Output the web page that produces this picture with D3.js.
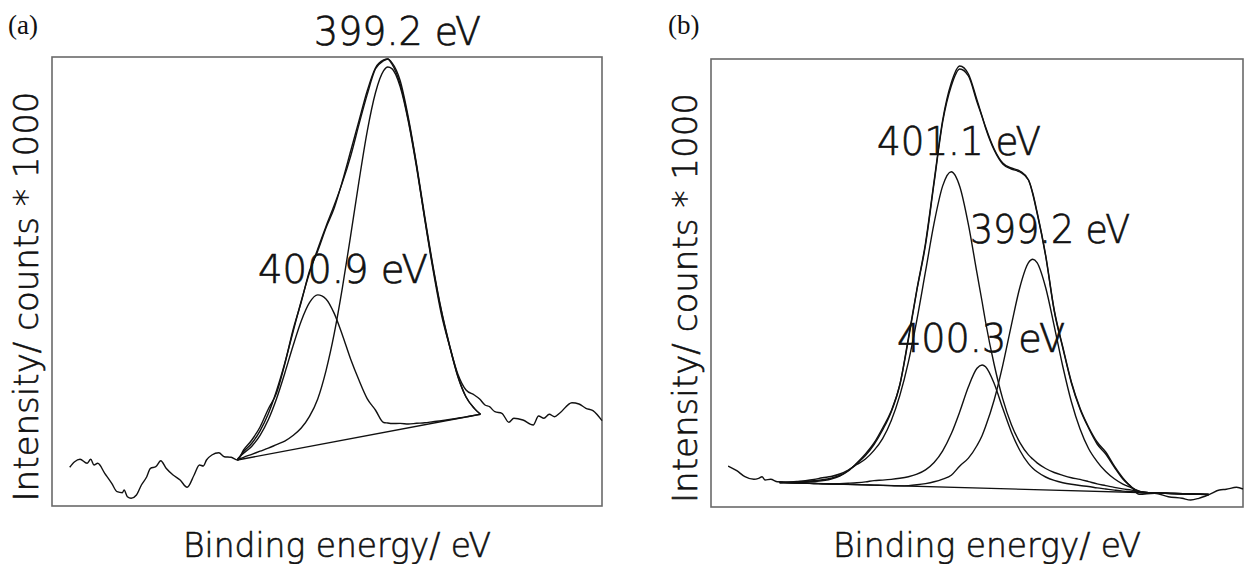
<!DOCTYPE html>
<html>
<head>
<meta charset="utf-8">
<script src="https://cdn.jsdelivr.net/npm/d3@7"></script>
<style>
  body { margin: 0; background: #fff; }
  text { font-family: "DejaVu Sans", sans-serif; }
</style>
</head>
<body>
<div id="wrapper"></div>
<script>
// ---- panel (a) data: binding energy (eV), intensity (counts * 1000) ----
const rawA = [
  [406.92,.387],[406.80,.443],[406.67,.467],[406.50,.427],[406.41,.467],[406.33,.41],[406.24,.427],
  [406.07,.327],[405.90,.227],[405.77,.143],[405.64,.133],[405.60,.16],[405.52,.093],[405.43,.077],
  [405.30,.11],[405.18,.21],[405.05,.293],[404.96,.377],[404.83,.393],[404.71,.453],[404.58,.377],
  [404.41,.31],[404.24,.26],[404.07,.187],[403.90,.31],[403.77,.41],[403.68,.40],[403.60,.46],
  [403.47,.51],[403.30,.533],[403.17,.493],[403.0,.487],[402.85,.46],
  [402.7,.56],[402.5,.66],[402.3,.79],[402.1,.97],[401.9,1.13],[401.7,1.42],[401.5,1.76],[401.3,2.04],
  [401.1,2.35],[400.9,2.55],[400.7,2.78],[400.5,2.98],[400.3,3.25],[400.1,3.55],[399.9,3.85],
  [399.7,4.15],[399.5,4.38],[399.3,4.46],[399.2,4.47],[399.1,4.42],[398.9,4.22],[398.7,3.86],
  [398.5,3.40],[398.3,2.86],[398.1,2.36],[397.9,1.92],[397.7,1.60],[397.5,1.32],[397.3,1.16],
  [397.1,1.11],[396.97,1.07],
  [396.84,1.01],[396.73,.993],[396.60,.943],[396.43,.927],[396.26,.837],[396.14,.877],[395.92,.86],
  [395.67,.81],[395.54,.90],[395.41,.877],[395.28,.917],[395.15,.893],[395.03,.927],[394.73,1.033],
  [394.56,1.02],[394.39,.977],[394.22,.953],[394.00,.853]
]
const bgA = [[402.85,.46],[396.95,.917]]
const gridA = [402.85,402.7,402.5,402.3,402.1,401.9,401.7,401.5,401.3,401.1,400.9,400.7,400.5,400.3,
  400.1,399.9,399.7,399.5,399.3,399.2,399.1,398.9,398.7,398.5,398.3,398.1,397.9,397.7,397.5,397.3,397.1,396.95]
const fitA = [.46,.543,.628,.752,.923,1.153,1.428,1.74,2.05,2.333,2.571,2.796,3.007,3.236,3.50,3.814,
  4.114,4.37,4.453,4.47,4.434,4.255,3.884,3.413,2.89,2.395,1.96,1.609,1.30,1.09,.976,.917]
const peak399A = [.46,.487,.517,.548,.578,.614,.649,.705,.78,.896,1.071,1.352,1.723,2.186,2.706,3.244,
  3.744,4.13,4.353,4.39,4.374,4.195,3.844,3.383,2.87,2.38,1.95,1.599,1.295,1.09,.976,.917]
const peak401A = [.47,.527,.598,.707,.863,1.073,1.328,1.60,1.85,2.033,2.111,2.071,1.926,1.708,1.467,
  1.259,1.074,.96,.835,.83,.825,.826,.82,.827,.832,.843,.853,.865,.878,.891,.906,.917]

// ---- panel (b) data ----
const rawB = [
  [406.30,.41],[406.10,.363],[405.91,.303],[405.70,.277],[405.59,.287],[405.51,.303],[405.44,.27],
  [405.31,.277],[405.15,.253],[404.7,.245],[404.3,.255],[403.9,.28],[403.7,.31],[403.5,.36],[403.3,.44],
  [403.1,.53],[402.9,.64],[402.7,.79],[402.5,.96],[402.3,1.22],[402.1,1.69],[401.9,2.18],[401.7,2.64],
  [401.5,3.26],[401.3,3.87],[401.1,4.24],[400.9,4.41],[400.7,4.33],[400.5,4.07],[400.3,3.80],
  [400.1,3.58],[399.9,3.44],[399.7,3.39],[399.5,3.36],[399.3,3.27],[399.1,2.94],[398.9,2.51],
  [398.7,1.96],[398.5,1.59],[398.3,1.24],[398.1,.98],[397.9,.79],[397.7,.63],[397.5,.53],[397.3,.40],
  [397.1,.28],[396.9,.20],[396.72,.127],[396.36,.137],[396.04,.103],[395.72,.087],[395.52,.07],
  [395.33,.087],[395.08,.127],[394.85,.17],[394.69,.177],[394.45,.197],[394.30,.18]
]
const bgB = [[405.1,.245],[395.1,.125]]
const gridB = [405.1,404.9,404.7,404.5,404.3,404.1,403.9,403.7,403.5,403.3,403.1,402.9,402.7,402.5,
  402.3,402.1,401.9,401.7,401.5,401.3,401.1,400.9,400.7,400.5,400.38,400.3,400.1,399.9,399.7,399.5,
  399.3,399.2,399.1,398.9,398.7,398.5,398.3,398.1,397.9,397.7,397.5,397.3,397.1,396.9,396.7,396.5,
  396.3,396.1,395.9,395.7,395.5,395.3,395.1]
const fitB = [.245,.247,.25,.255,.262,.272,.288,.315,.365,.435,.515,.625,.77,.95,1.22,1.67,2.17,2.62,
  3.24,3.85,4.21,4.38,4.31,4.05,3.90,3.79,3.57,3.43,3.38,3.35,3.27,3.14,2.95,2.52,1.97,1.60,1.25,.99,
  .80,.65,.55,.41,.29,.20,.155,.142,.139,.137,.134,.132,.13,.127,.125]
const peak401B = [.245,.247,.255,.263,.275,.293,.305,.33,.37,.425,.48,.566,.684,.863,1.114,1.449,1.874,
  2.356,2.839,3.211,3.353,3.203,2.824,2.338,2.05,1.850,1.425,1.081,.825,.644,.521,.479,.441,.385,.345,
  .317,.293,.276,.254,.231,.214,.196,.181,.169,.152,.143,.139,.137,.1346,.1322,.1298,.1274,.125]
const peak399B = [.245,.2426,.2402,.2378,.2354,.233,.2306,.2282,.2258,.2234,.221,.2186,.2162,.2138,
  .2114,.214,.222,.234,.252,.279,.317,.411,.489,.615,.716,.805,1.07,1.417,1.816,2.198,2.443,2.477,2.444,
  2.195,1.809,1.405,1.052,.782,.585,.454,.354,.282,.229,.192,.152,.144,.14,.137,.1346,.1322,.1298,.1274,.125]
const peak400B = [.245,.2426,.2402,.2378,.2354,.233,.2306,.234,.238,.243,.251,.264,.269,.276,.287,.303,
  .329,.372,.445,.562,.732,.955,1.202,1.387,1.420,1.402,1.235,.987,.751,.565,.434,.388,.352,.300,.266,
  .243,.227,.215,.205,.191,.18,.169,.159,.152,.146,.1418,.1394,.137,.1346,.1322,.1298,.1274,.125]

const xTitle = "Binding energy/ eV"
const yTitle = "Intensity/ counts * 1000"

const panels = [
  {
    tag: "(a)", tagX: 8,
    left: 52, right: 602, top: 57, bottom: 506,
    xDomain: [407.35, 394.0], yMax: 4.49,
    raw: rawA, bg: bgA, grid: gridA, fit: fitA, peaks: [peak399A, peak401A],
    labels: [
      {text: "399.2 eV", x: 314, y: 45, w: 167},
      {text: "400.9 eV", x: 258, y: 283, w: 170},
    ],
  },
  {
    tag: "(b)", tagX: 668,
    left: 711, right: 1243, top: 59, bottom: 507,
    xDomain: [406.7, 394.3], yMax: 4.48,
    raw: rawB, bg: bgB, grid: gridB, fit: fitB, peaks: [peak401B, peak399B, peak400B],
    labels: [
      {text: "401.1 eV", x: 877, y: 155, w: 164},
      {text: "399.2 eV", x: 970, y: 243, w: 160},
      {text: "400.3 eV", x: 897, y: 352, w: 168},
    ],
  },
]

const svg = d3.select("#wrapper")
  .append("svg")
  .attr("width", 1245)
  .attr("height", 564)
  .style("display", "block")

svg.append("rect").attr("width", 1245).attr("height", 564).attr("fill", "#fff")

function drawPanel(p) {
  const xScaler = d3.scaleLinear().domain(p.xDomain).range([p.left, p.right])
  const yScaler = d3.scaleLinear().domain([0, p.yMax]).range([p.bottom, p.top])

  const g = svg.append("g")

  // frame
  g.append("rect")
    .attr("x", p.left).attr("y", p.top)
    .attr("width", p.right - p.left).attr("height", p.bottom - p.top)
    .attr("fill", "none").attr("stroke", "#6a6a6a").attr("stroke-width", 1.6)

  const line = d3.line()
    .x(d => xScaler(d[0]))
    .y(d => yScaler(d[1]))
    .curve(d3.curveMonotoneX)

  const series = [p.raw, p.bg, p.grid.map((e, i) => [e, p.fit[i]])]
  p.peaks.forEach(pk => series.push(p.grid.map((e, i) => [e, pk[i]])))

  g.selectAll("path.curve")
    .data(series)
    .enter()
    .append("path")
    .attr("class", "curve")
    .attr("d", line)
    .attr("fill", "none")
    .attr("stroke", "#111")
    .attr("stroke-width", 1.4)
    .attr("stroke-linejoin", "round")

  // peak labels
  p.labels.forEach(l => {
    g.append("text")
      .attr("x", l.x).attr("y", l.y)
      .attr("textLength", l.w).attr("lengthAdjust", "spacingAndGlyphs")
      .attr("font-size", "39px").attr("font-weight", 200)
      .attr("fill", "#111").attr("stroke", "#111").attr("stroke-width", 0.7)
      .text(l.text)
  })

  // panel tag
  g.append("text")
    .attr("x", p.tagX).attr("y", 34)
    .style("font-family", "'Liberation Serif', 'Times New Roman', serif")
    .attr("font-size", "27px")
    .attr("fill", "#111")
    .text(p.tag)

  // axis titles
  const cx = (p.left + p.right) / 2
  g.append("text")
    .attr("x", cx + 10).attr("y", 557)
    .attr("text-anchor", "middle")
    .attr("textLength", 308).attr("lengthAdjust", "spacingAndGlyphs")
    .attr("font-size", "33px").attr("font-weight", 200)
    .attr("fill", "#111").attr("stroke", "#111").attr("stroke-width", 0.6)
    .text(xTitle)

  const ty = (p.top + p.bottom) / 2 + 15
  g.append("text")
    .attr("transform", `translate(${p.left - 14},${ty})rotate(-90)`)
    .attr("text-anchor", "middle")
    .attr("textLength", 410).attr("lengthAdjust", "spacingAndGlyphs")
    .attr("font-size", "34px").attr("font-weight", 200)
    .attr("fill", "#111").attr("stroke", "#111").attr("stroke-width", 0.6)
    .text(yTitle)
}

panels.forEach(drawPanel)
</script>
</body>
</html>
